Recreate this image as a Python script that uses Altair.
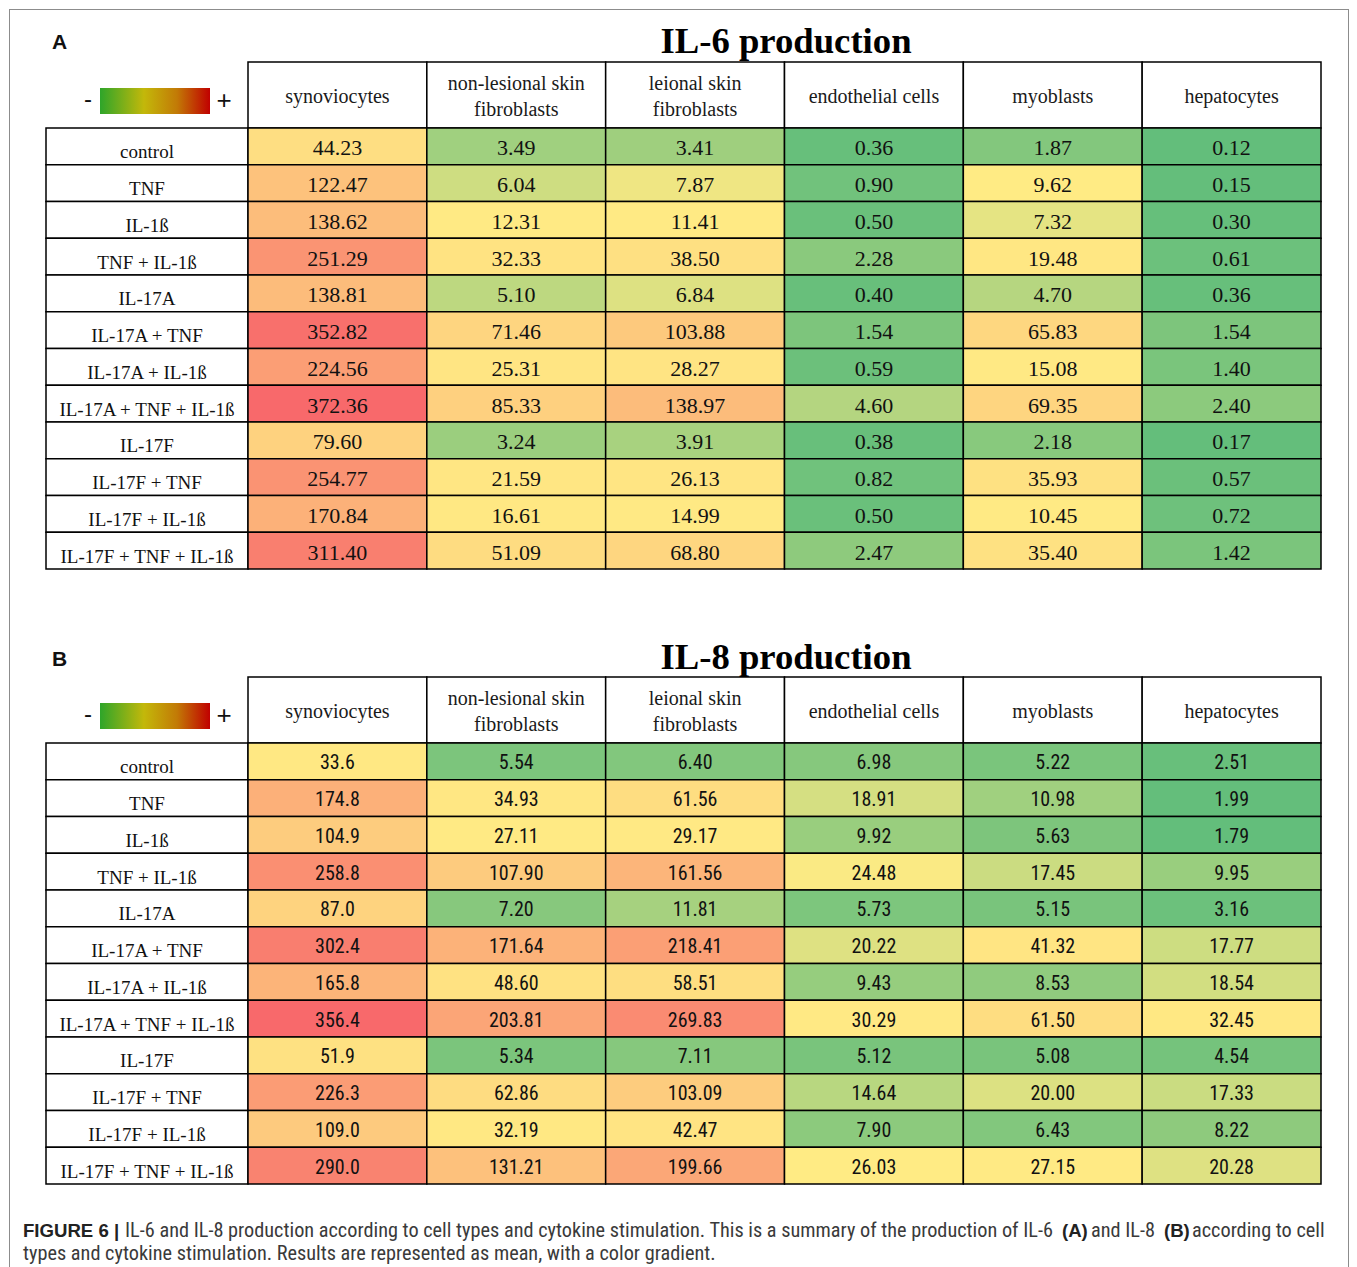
import altair as alt
import pandas as pd
import numpy as np

# ---------------- data ----------------
conditions = ["control", "TNF", "IL-1ß", "TNF + IL-1ß", "IL-17A", "IL-17A + TNF",
              "IL-17A + IL-1ß", "IL-17A + TNF + IL-1ß", "IL-17F", "IL-17F + TNF",
              "IL-17F + IL-1ß", "IL-17F + TNF + IL-1ß"]
cell_types = ["synoviocytes", "non-lesional skin fibroblasts", "leional skin fibroblasts",
              "endothelial cells", "myoblasts", "hepatocytes"]
header_labels = ["synoviocytes", "non-lesional skin\nfibroblasts", "leional skin\nfibroblasts",
                 "endothelial cells", "myoblasts", "hepatocytes"]

il6_synoviocytes = [44.23, 122.47, 138.62, 251.29, 138.81, 352.82, 224.56, 372.36, 79.60, 254.77, 170.84, 311.40]
il6_nonlesional = [3.49, 6.04, 12.31, 32.33, 5.10, 71.46, 25.31, 85.33, 3.24, 21.59, 16.61, 51.09]
il6_lesional = [3.41, 7.87, 11.41, 38.50, 6.84, 103.88, 28.27, 138.97, 3.91, 26.13, 14.99, 68.80]
il6_endothelial = [0.36, 0.90, 0.50, 2.28, 0.40, 1.54, 0.59, 4.60, 0.38, 0.82, 0.50, 2.47]
il6_myoblasts = [1.87, 9.62, 7.32, 19.48, 4.70, 65.83, 15.08, 69.35, 2.18, 35.93, 10.45, 35.40]
il6_hepatocytes = [0.12, 0.15, 0.30, 0.61, 0.36, 1.54, 1.40, 2.40, 0.17, 0.57, 0.72, 1.42]
il6_decimals = [2, 2, 2, 2, 2, 2]

il8_synoviocytes = [33.6, 174.8, 104.9, 258.8, 87.0, 302.4, 165.8, 356.4, 51.9, 226.3, 109.0, 290.0]
il8_nonlesional = [5.54, 34.93, 27.11, 107.90, 7.20, 171.64, 48.60, 203.81, 5.34, 62.86, 32.19, 131.21]
il8_lesional = [6.40, 61.56, 29.17, 161.56, 11.81, 218.41, 58.51, 269.83, 7.11, 103.09, 42.47, 199.66]
il8_endothelial = [6.98, 18.91, 9.92, 24.48, 5.73, 20.22, 9.43, 30.29, 5.12, 14.64, 7.90, 26.03]
il8_myoblasts = [5.22, 10.98, 5.63, 17.45, 5.15, 41.32, 8.53, 61.50, 5.08, 20.00, 6.43, 27.15]
il8_hepatocytes = [2.51, 1.99, 1.79, 9.95, 3.16, 17.77, 18.54, 32.45, 4.54, 17.33, 8.22, 20.28]
il8_decimals = [1, 2, 2, 2, 2, 2]

caption_bold = "FIGURE 6 |"
caption_line1 = "IL-6 and IL-8 production according to cell types and cytokine stimulation. This is a summary of the production of IL-6"
caption_a = "(A)"
caption_mid = "and IL-8"
caption_b = "(B)"
caption_end = "according to cell"
caption_line2 = "types and cytokine stimulation. Results are represented as mean, with a color gradient."

# ---------------- styling ----------------
SERIF = "Liberation Serif"
SANS = "Liberation Sans"
NARROW = "Liberation Sans Narrow, Arial Narrow, Roboto Condensed, Roboto, sans-serif"
GREEN, YELLOW, RED = "#63BE7B", "#FFEB84", "#F8696B"
FRAME = "#8c8c8c"

# grid layout (columns / rows of the figure)
COL_W = [37, 202, 1073, 28]
TITLE_H, HEAD_H, BODY_H, GAP_H, CAP_H = 53, 66, 441, 55, 68
TOTAL_W = sum(COL_W)

one = pd.DataFrame({"a": [0]})


def table_df(cols, decimals):
    rows = []
    for ct, vals, d in zip(cell_types, cols, decimals):
        for cond, v in zip(conditions, vals):
            rows.append({"cell": ct, "condition": cond, "value": v, "label": f"{v:.{d}f}"})
    return pd.DataFrame(rows)


def color_scale(df):
    v = df["value"].to_numpy()
    return alt.Scale(domain=[float(v.min()), float(np.median(v)), float(v.max())],
                     range=[GREEN, YELLOW, RED], interpolate="rgb")


xscale = alt.Scale(domain=cell_types, paddingInner=0, paddingOuter=0)
yscale = alt.Scale(domain=conditions, paddingInner=0, paddingOuter=0)


def blank(w, h):
    return alt.Chart(one).mark_rect(opacity=0).encode(color=alt.value("white")).properties(width=w, height=h)


def txt(t, x, y, **kw):
    return alt.Chart(pd.DataFrame({"t": [t]})).mark_text(**kw).encode(
        text="t:N", x=alt.value(x), y=alt.value(y))


def frame_unit(w, h):
    top = alt.Chart(one).mark_rule(color=FRAME, strokeWidth=1).encode(
        x=alt.value(0), x2=alt.value(TOTAL_W - 0.5), y=alt.value(0.5))
    left = alt.Chart(one).mark_rule(color=FRAME, strokeWidth=1).encode(
        x=alt.value(0.5), y=alt.value(0), y2=alt.value(1262))
    right = alt.Chart(one).mark_rule(color=FRAME, strokeWidth=1).encode(
        x=alt.value(TOTAL_W - 0.5), y=alt.value(0), y2=alt.value(1262))
    return alt.layer(top, left, right).properties(width=w, height=h)


def letter_unit(letter, y):
    return txt(letter, 6, y, font=SANS, fontWeight="bold", fontSize=21, align="left",
               baseline="alphabetic", color="#111").properties(width=COL_W[1], height=TITLE_H)


def title_unit(title, y):
    return txt(title, 538, y, font=SERIF, fontWeight="bold", fontSize=36.7, align="center",
               baseline="alphabetic", color="#000").properties(width=COL_W[2], height=TITLE_H)


def legend_unit():
    grad = alt.Gradient(gradient="linear", x1=0, x2=1, y1=0, y2=0, stops=[
        alt.GradientStop(color="#2ea52a", offset=0),
        alt.GradientStop(color="#c3b80a", offset=0.4),
        alt.GradientStop(color="#c27a06", offset=0.7),
        alt.GradientStop(color="#c00000", offset=1),
    ])
    bar = alt.Chart(one).mark_rect(fill=grad).encode(
        x=alt.value(54), x2=alt.value(164), y=alt.value(26), y2=alt.value(52))
    minus = txt("-", 42, 38, font=SANS, fontSize=24, color="#111")
    plus = txt("+", 178, 39, font=SANS, fontSize=26, color="#111")
    return alt.layer(bar, minus, plus).properties(width=COL_W[1], height=HEAD_H)


def header_unit():
    hdf = pd.DataFrame({"cell": cell_types, "head": header_labels,
                        "nlines": [h.count("\n") + 1 for h in header_labels]})
    base = alt.Chart(hdf).encode(x=alt.X("cell:N", scale=xscale, axis=None))
    r = base.mark_rect(fill="white", stroke="black", strokeWidth=1.5)
    t1 = base.transform_filter("datum.nlines == 1").mark_text(
        font=SERIF, fontSize=20, color="#1a1a1a").encode(text="head:N", y=alt.value(35))
    t2 = base.transform_filter("datum.nlines == 2").mark_text(
        font=SERIF, fontSize=20, lineBreak="\n", lineHeight=26, color="#1a1a1a").encode(
        text="head:N", y=alt.value(22))
    return alt.layer(r, t1, t2).properties(width=COL_W[2], height=HEAD_H)


def label_unit():
    ldf = pd.DataFrame({"condition": conditions})
    base = alt.Chart(ldf).encode(y=alt.Y("condition:N", scale=yscale, axis=None))
    r = base.mark_rect(fill="white", stroke="black", strokeWidth=1.5)
    t = base.mark_text(font=SERIF, fontSize=19, dy=6, color="#111").encode(
        text="condition:N", x=alt.value(COL_W[1] / 2))
    return alt.layer(r, t).properties(width=COL_W[1], height=BODY_H)


def data_unit(df, font, size, dy):
    base = alt.Chart(df).encode(
        x=alt.X("cell:N", scale=xscale, axis=None),
        y=alt.Y("condition:N", scale=yscale, axis=None),
    )
    r = base.mark_rect(stroke="black", strokeWidth=1.5).encode(
        color=alt.Color("value:Q", scale=color_scale(df), legend=None))
    t = base.mark_text(font=font, fontSize=size, dy=dy, color="#111").encode(text="label:N")
    return alt.layer(r, t).properties(width=COL_W[2], height=BODY_H)


def caption_unit():
    def seg(t, x, y, bold=False):
        return txt(t, x, y, font=SANS if bold else NARROW, fontSize=18.6 if bold else 20.3,
                   fontWeight="bold" if bold else "normal", align="left", baseline="alphabetic",
                   color="#222" if bold else "#3a3a3a")
    y1, y2 = 53, 76
    return alt.layer(
        seg(caption_bold, 14, y1, True),
        seg(caption_line1, 116, y1),
        seg(caption_a, 1053, y1, True),
        seg(caption_mid, 1082, y1),
        seg(caption_b, 1155, y1, True),
        seg(caption_end, 1183, y1),
        seg(caption_line2, 14, y2),
    ).properties(width=COL_W[0], height=CAP_H)


df6 = table_df([il6_synoviocytes, il6_nonlesional, il6_lesional, il6_endothelial, il6_myoblasts, il6_hepatocytes], il6_decimals)
df8 = table_df([il8_synoviocytes, il8_nonlesional, il8_lesional, il8_endothelial, il8_myoblasts, il8_hepatocytes], il8_decimals)

cells = [
    # panel A
    frame_unit(COL_W[0], TITLE_H), letter_unit("A", 40), title_unit("IL-6 production", 44), blank(COL_W[3], TITLE_H),
    blank(COL_W[0], HEAD_H), legend_unit(), header_unit(), blank(COL_W[3], HEAD_H),
    blank(COL_W[0], BODY_H), label_unit(), data_unit(df6, SERIF, 22, 2), blank(COL_W[3], BODY_H),
    # gap
    blank(COL_W[0], GAP_H), blank(COL_W[1], GAP_H), blank(COL_W[2], GAP_H), blank(COL_W[3], GAP_H),
    # panel B
    blank(COL_W[0], TITLE_H), letter_unit("B", 42), title_unit("IL-8 production", 45), blank(COL_W[3], TITLE_H),
    blank(COL_W[0], HEAD_H), legend_unit(), header_unit(), blank(COL_W[3], HEAD_H),
    blank(COL_W[0], BODY_H), label_unit(), data_unit(df8, NARROW, 20, 2), blank(COL_W[3], BODY_H),
    # caption
    caption_unit(), blank(COL_W[1], CAP_H), blank(COL_W[2], CAP_H), blank(COL_W[3], CAP_H),
]

chart = alt.concat(*cells, columns=4, spacing=0, bounds="flush").resolve_scale(
    x="independent", y="independent", color="independent"
).properties(padding=0).configure_view(stroke="transparent", strokeWidth=0)

chart.save("out.html", embed_options={"renderer": "svg", "actions": False})
